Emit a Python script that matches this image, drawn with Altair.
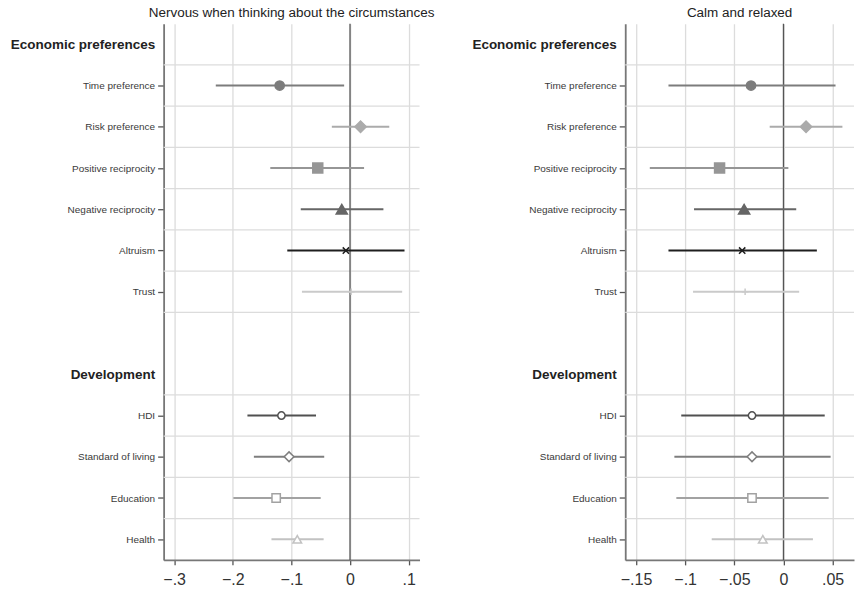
import json
import altair as alt
import pandas as pd

# Outcome panels
panel_titles = ["Nervous when thinking about the circumstances", "Calm and relaxed"]

# Items and group headers, top to bottom
econ_items = ["Time preference", "Risk preference", "Positive reciprocity",
              "Negative reciprocity", "Altruism", "Trust"]
dev_items = ["HDI", "Standard of living", "Education", "Health"]
items = econ_items + dev_items
item_slots = [1, 2, 3, 4, 5, 6, 9, 10, 11, 12]
slot_labels = (["Economic preferences"] + econ_items + [""] +
               ["Development"] + dev_items)
header_slots = [0, 8]
row_borders = [0.5, 1.5, 2.5, 3.5, 4.5, 5.5, 6.5, 8.5, 9.5, 10.5, 11.5]

# Coefficients and 95% confidence bounds
nervous_est = [-0.120, 0.018, -0.055, -0.014, -0.007, 0.002, -0.117, -0.104, -0.126, -0.090]
nervous_lo = [-0.229, -0.031, -0.136, -0.084, -0.107, -0.082, -0.175, -0.164, -0.199, -0.134]
nervous_hi = [-0.010, 0.067, 0.024, 0.057, 0.093, 0.089, -0.058, -0.044, -0.050, -0.045]

calm_est = [-0.033, 0.023, -0.065, -0.040, -0.042, -0.039, -0.032, -0.032, -0.032, -0.021]
calm_lo = [-0.117, -0.014, -0.136, -0.091, -0.117, -0.092, -0.104, -0.111, -0.109, -0.073]
calm_hi = [0.053, 0.060, 0.005, 0.013, 0.034, 0.016, 0.042, 0.048, 0.046, 0.030]

x_ticks = [[-0.3, -0.2, -0.1, 0, 0.1], [-0.15, -0.1, -0.05, 0, 0.05]]
x_domains = [[-0.318, 0.1186], [-0.161, 0.0718]]
panel_widths = [256.5, 229.3]

# Marker styling per item
x_path = "M-1,-1L1,1M-1,1L1,-1"
plus_path = "M-1,0L1,0M0,-1L0,1"
shapes = ["circle", "diamond", "square", "triangle-up", x_path, plus_path,
          "circle", "diamond", "square", "triangle-up"]
colors = ["#7c7c7c", "#ababab", "#969696", "#666666", "#1e1e1e", "#cacaca",
          "#505050", "#7e7e7e", "#a2a2a2", "#c2c2c2"]
fills = ["#7c7c7c", "#ababab", "#969696", "#666666", "#1e1e1e", "#cacaca",
         "#ffffff", "#ffffff", "#ffffff", "#ffffff"]
sizes = [86, 130, 100, 125, 40, 45, 54, 95, 70, 75]

FONT = "Liberation Sans"
HEADER_TEST = " || ".join(f"datum.value == {s}" for s in header_slots)
label_lookup = json.dumps(slot_labels) + "[datum.value]"


def y_enc():
    return alt.Y(
        "slot:Q",
        scale=alt.Scale(domain=[-0.5, 12.5], reverse=True, nice=False, zero=False),
        axis=alt.Axis(
            title=None,
            values=[s for s in range(13) if slot_labels[s] != ""],
            labelExpr=label_lookup,
            grid=False,
            labelFlush=False,
            labelOverlap=False,
            labelFont=FONT,
            labelFontSize={"condition": {"test": HEADER_TEST, "value": 13.5}, "value": 10},
            labelFontWeight={"condition": {"test": HEADER_TEST, "value": "bold"}, "value": "normal"},
            labelColor={"condition": {"test": HEADER_TEST, "value": "#222222"}, "value": "#3a3a3a"},
            tickOpacity={"condition": {"test": HEADER_TEST, "value": 0}, "value": 1},
            tickSize=6,
            tickWidth=1.3,
            tickColor="#555555",
            labelPadding=3,
            domainColor="#777777",
            domainWidth=1.8,
        ),
    )


def x_enc(field, i):
    return alt.X(
        f"{field}:Q",
        scale=alt.Scale(domain=x_domains[i], nice=False, zero=False),
        axis=alt.Axis(
            title=None,
            values=x_ticks[i],
            labelExpr="replace(format(datum.value, '.2~f'), '0.', '.')",
            labelFont=FONT,
            labelFontSize=16,
            labelColor="#333333",
            labelFlush=False,
            labelPadding=7,
            tickSize=5,
            tickWidth=1.3,
            tickColor="#555555",
            domainColor="#777777",
            domainWidth=1.8,
            grid=True,
            gridColor="#dcdcdc",
            gridWidth=1.3,
        ),
    )


def panel(i, est, lo, hi):
    df = pd.DataFrame({"item": items, "slot": item_slots, "est": est, "lo": lo, "hi": hi})
    borders = pd.DataFrame({"slot": row_borders})
    zero = pd.DataFrame({"est": [0]})

    grid_rows = alt.Chart(borders).mark_rule(color="#dcdcdc", strokeWidth=1.3).encode(
        y=y_enc()
    )
    zero_line = alt.Chart(zero).mark_rule(color="#555555", strokeWidth=1.3).encode(
        x=x_enc("est", i)
    )
    ci = alt.Chart(df).mark_rule(strokeWidth=1.8).encode(
        x=x_enc("lo", i),
        x2="hi:Q",
        y=y_enc(),
        color=alt.Color("item:N", scale=alt.Scale(domain=items, range=colors), legend=None),
    )
    pts = alt.Chart(df).mark_point(opacity=1, strokeWidth=1.5).encode(
        x=x_enc("est", i),
        y=y_enc(),
        shape=alt.Shape("item:N", scale=alt.Scale(domain=items, range=shapes), legend=None),
        size=alt.Size("item:N", scale=alt.Scale(type="ordinal", domain=items, range=sizes), legend=None),
        fill=alt.Fill("item:N", scale=alt.Scale(domain=items, range=fills), legend=None),
        stroke=alt.Stroke("item:N", scale=alt.Scale(domain=items, range=colors), legend=None),
    )
    return alt.layer(grid_rows, zero_line, ci, pts).resolve_scale(
        color="independent", fill="independent", stroke="independent"
    ).properties(
        width=panel_widths[i],
        height=537.5,
        title=alt.TitleParams(
            panel_titles[i], font=FONT, fontSize=13.5, fontWeight="normal",
            color="#222222", anchor="middle", frame="group", offset=4,
        ),
    )


left = panel(0, nervous_est, nervous_lo, nervous_hi)
right = panel(1, calm_est, calm_lo, calm_hi)

chart = alt.hconcat(left, right, spacing=205.7, bounds="flush").properties(
    padding={"left": 10, "top": 4, "right": 0, "bottom": 5},
    background="white",
).configure_view(stroke=None)

chart.save("out.html", embed_options={"renderer": "svg", "actions": False})
